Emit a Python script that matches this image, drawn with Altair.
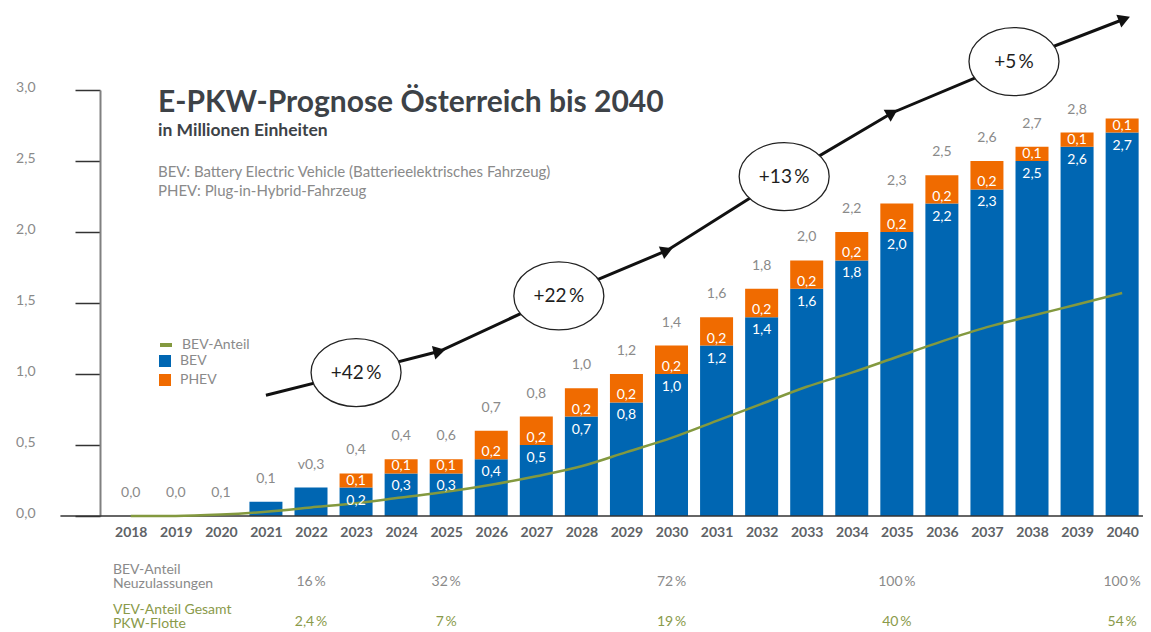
import math
import altair as alt
import pandas as pd

FONT = "Lato"

# ---------------- data ----------------
years = list(range(2018, 2041))
bev = [0, 0, 0, 0.1, 0.2, 0.2, 0.3, 0.3, 0.4, 0.5, 0.7, 0.8, 1.0, 1.2, 1.4, 1.6,
       1.8, 2.0, 2.2, 2.3, 2.5, 2.6, 2.7]
phev = [0, 0, 0, 0, 0, 0.1, 0.1, 0.1, 0.2, 0.2, 0.2, 0.2, 0.2, 0.2, 0.2, 0.2,
        0.2, 0.2, 0.2, 0.2, 0.1, 0.1, 0.1]
total_labels = ["0,0", "0,0", "0,1", "0,1", "v0,3", "0,4", "0,4", "0,6", "0,7", "0,8",
                "1,0", "1,2", "1,4", "1,6", "1,8", "2,0", "2,2", "2,3", "2,5", "2,6",
                "2,7", "2,8", ""]
bev_labels = ["", "", "", "", "", "0,2", "0,3", "0,3", "0,4", "0,5", "0,7", "0,8",
              "1,0", "1,2", "1,4", "1,6", "1,8", "2,0", "2,2", "2,3", "2,5", "2,6", "2,7"]
phev_labels = ["", "", "", "", "", "0,1", "0,1", "0,1", "0,2", "0,2", "0,2", "0,2",
               "0,2", "0,2", "0,2", "0,2", "0,2", "0,2", "0,2", "0,2", "0,1", "0,1", "0,1"]
bev_anteil = [0.0, 0.0, 0.01, 0.03, 0.06, 0.09, 0.13, 0.17, 0.22, 0.28, 0.35, 0.45,
              0.55, 0.67, 0.79, 0.91, 1.01, 1.12, 1.23, 1.33, 1.41, 1.49, 1.57]

# growth arrow path (in chart units: year / Mio.)
arrow_x = [2021.0, 2023.0, 2024.85, 2027.5, 2029.9, 2032.5, 2034.9, 2037.6, 2040.05]
arrow_y = [0.85, 1.01, 1.16, 1.55, 1.87, 2.39, 2.84, 3.20, 3.50]
growth_labels = ["+42\u2009%", "+22\u2009%", "+13\u2009%", "+5\u2009%"]

row_years = [2022, 2025, 2030, 2035, 2040]
neu_values = ["16\u2009%", "32\u2009%", "72\u2009%", "100\u2009%", "100\u2009%"]
flotte_values = ["2,4\u2009%", "7\u2009%", "19\u2009%", "40\u2009%", "54\u2009%"]
row_titles = ["BEV-Anteil\nNeuzulassungen", "VEV-Anteil Gesamt\nPKW-Flotte"]
row_levels = [-0.378, -0.66]
row_value_levels = [-0.465, -0.745]

y_ticks = [0, 0.5, 1.0, 1.5, 2.0, 2.5, 3.0]

title = "E-PKW-Prognose Österreich bis 2040"
subtitle = "in Millionen Einheiten"
note1 = "BEV: Battery Electric Vehicle (Batterieelektrisches Fahrzeug)"
note2 = "PHEV: Plug-in-Hybrid-Fahrzeug"

# ---------------- style ----------------
BLUE = "#0066b2"
ORANGE = "#f06b00"
GREEN = "#83993f"
GRAY = "#8a8a8a"
DARK = "#3d4247"

W, H = 1043, 426
X_DOMAIN = [2017.4286, 2040.352]
Y_DOMAIN = [0, 3.0]
PX_X = W / (X_DOMAIN[1] - X_DOMAIN[0])
PX_Y = H / (Y_DOMAIN[1] - Y_DOMAIN[0])

xs = alt.Scale(domain=X_DOMAIN, nice=False, zero=False)
ys = alt.Scale(domain=Y_DOMAIN, nice=False, zero=False)

X_AXIS = alt.Axis(
    values=years, format="d", title=None, domain=False, ticks=False, grid=False,
    labelFont=FONT, labelFontSize=14, labelFontWeight="bold", labelColor="#5e6266",
    labelPadding=9)
Y_AXIS = alt.Axis(
    values=y_ticks, title=None, grid=False, domainColor="#808080", domainWidth=2,
    tickColor="#333333", tickWidth=1.5, tickSize=25, labelPadding=40,
    labelExpr="replace(format(datum.value, '.1f'), '.', ',')",
    labelFont=FONT, labelFontSize=14, labelColor=GRAY, labelOffset=-3)


def X(field):
    return alt.X(field, scale=xs, axis=X_AXIS, title=None)


def Y(field, **kw):
    return alt.Y(field, scale=ys, axis=Y_AXIS, title=None, **kw)


# ---------------- tables ----------------
n = len(years)
bars_df = pd.DataFrame({
    "year": years * 2,
    "series": ["BEV"] * n + ["PHEV"] * n,
    "value": bev + phev,
    "order": [0] * n + [1] * n,
})
lab_df = pd.DataFrame({
    "year": years,
    "bev": bev,
    "total": [b + p for b, p in zip(bev, phev)],
    "total_label": total_labels,
    "bev_label": bev_labels,
    "phev_label": phev_labels,
})
line_df = pd.DataFrame({"year": years, "share": bev_anteil, "name": ["BEV-Anteil"] * n})
path_df = pd.DataFrame({"x": arrow_x, "y": arrow_y, "i": list(range(len(arrow_x)))})

heads = []
for k in [2, 4, 6, 8]:
    dx = (arrow_x[k] - arrow_x[k - 1]) * PX_X
    dy = -(arrow_y[k] - arrow_y[k - 1]) * PX_Y
    ang = math.degrees(math.atan2(dy, dx)) % 360
    heads.append({"x": arrow_x[k], "y": arrow_y[k], "angle": ang})
heads_df = pd.DataFrame(heads)
ell_df = pd.DataFrame({"x": [arrow_x[k] for k in [1, 3, 5, 7]],
                       "y": [arrow_y[k] for k in [1, 3, 5, 7]],
                       "label": growth_labels})

rows_df = pd.DataFrame({
    "year": row_years * 2,
    "y": [row_value_levels[0]] * 5 + [row_value_levels[1]] * 5,
    "label": neu_values + flotte_values,
    "grp": ["neu"] * 5 + ["flotte"] * 5,
})
row_title_df = pd.DataFrame({"year": [X_DOMAIN[0] + 8 / PX_X] * 2, "y": row_levels,
                             "label": row_titles, "grp": ["neu", "flotte"]})
base_df = pd.DataFrame({"x": [X_DOMAIN[0] - 45 / PX_X], "x2": [X_DOMAIN[0] + 1048 / PX_X], "y": [0]})

# ---------------- layers ----------------
bars = alt.Chart(bars_df).mark_bar(size=33).encode(
    x=X("year:Q"),
    y=Y("value:Q", stack="zero"),
    color=alt.Color("series:N", scale=alt.Scale(domain=["BEV", "PHEV"], range=[BLUE, ORANGE]),
                    legend=alt.Legend(orient="none", legendX=58, legendY=264, title=None,
                                      symbolType="square", symbolSize=144, symbolStrokeWidth=0,
                                      labelFont=FONT, labelFontSize=14, labelColor=GRAY,
                                      labelOffset=8, rowPadding=5, padding=0)),
    order=alt.Order("order:Q"),
)

baseline = alt.Chart(base_df).mark_rule(color="#333333", strokeWidth=1.5).encode(
    x=X("x:Q"), x2="x2:Q", y=Y("y:Q"))

line = alt.Chart(line_df).mark_line(interpolate="monotone", strokeWidth=2.5).encode(
    x=X("year:Q"), y=Y("share:Q"),
    stroke=alt.Stroke("name:N", scale=alt.Scale(domain=["BEV-Anteil"], range=[GREEN]),
                      legend=alt.Legend(orient="none", legendX=58, legendY=247, title=None,
                                        symbolType="stroke", symbolSize=144, symbolStrokeWidth=4,
                                        labelFont=FONT, labelFontSize=14, labelColor=GRAY,
                                        labelOffset=8, padding=0)),
)

tot_text = alt.Chart(lab_df).mark_text(font=FONT, fontSize=14, color=GRAY, dy=-23).encode(
    x=X("year:Q"), y=Y("total:Q"), text="total_label:N")
bev_text = alt.Chart(lab_df).mark_text(font=FONT, fontSize=14, color="white", dy=13).encode(
    x=X("year:Q"), y=Y("bev:Q"), text="bev_label:N")
phev_text = alt.Chart(lab_df).mark_text(font=FONT, fontSize=14, color="white", dy=-7).encode(
    x=X("year:Q"), y=Y("bev:Q"), text="phev_label:N")

path = alt.Chart(path_df).mark_line(color="#111111", strokeWidth=3).encode(
    x=X("x:Q"), y=Y("y:Q"), order="i:Q")
arrowheads = alt.Chart(heads_df).mark_point(
    shape="triangle-right", filled=True, color="#111111", size=190, opacity=1).encode(
    x=X("x:Q"), y=Y("y:Q"), angle=alt.Angle("angle:Q", scale=None))
ELLIPSE = "M-1,0A1,0.756,0,1,1,1,0A1,0.756,0,1,1,-1,0Z"
ellipses = alt.Chart(ell_df).mark_point(
    shape=ELLIPSE, size=8100, filled=True, fill="white", stroke="#222222",
    strokeWidth=1.3, opacity=1).encode(x=X("x:Q"), y=Y("y:Q"))
ell_text = alt.Chart(ell_df).mark_text(font=FONT, fontSize=19, color="#1e1e1e").encode(
    x=X("x:Q"), y=Y("y:Q"), text="label:N")

row_color = alt.Color("grp:N", scale=alt.Scale(domain=["neu", "flotte"], range=[GRAY, "#8a9a4a"]),
                      legend=None)
row_vals = alt.Chart(rows_df).mark_text(font=FONT, fontSize=14).encode(
    x=X("year:Q"), y=Y("y:Q"), text="label:N", color=row_color)
row_titles_l = alt.Chart(row_title_df).mark_text(
    font=FONT, fontSize=14, align="left", lineBreak="\n", lineHeight=14).encode(
    x=X("year:Q"), y=Y("y:Q"), text="label:N", color=row_color)

hdr_df = pd.DataFrame({"t": [0]})
h1 = alt.Chart(hdr_df).mark_text(text=title, font=FONT, fontSize=30, fontWeight="bold",
                                 color=DARK, align="left", baseline="alphabetic").encode(
    x=alt.value(58), y=alt.value(22))
h2 = alt.Chart(hdr_df).mark_text(text=subtitle, font=FONT, fontSize=17.5, fontWeight="bold",
                                 color=DARK, align="left", baseline="alphabetic").encode(
    x=alt.value(58), y=alt.value(46))
h3 = alt.Chart(hdr_df).mark_text(text=note1, font=FONT, fontSize=15, color=GRAY,
                                 align="left", baseline="alphabetic").encode(
    x=alt.value(58), y=alt.value(87))
h4 = alt.Chart(hdr_df).mark_text(text=note2, font=FONT, fontSize=15, color=GRAY,
                                 align="left", baseline="alphabetic").encode(
    x=alt.value(58), y=alt.value(106))

chart = alt.layer(
    bars, baseline, line, tot_text, bev_text, phev_text,
    path, arrowheads, ellipses, ell_text, row_vals, row_titles_l, h1, h2, h3, h4,
).resolve_scale(color="independent").properties(
    width=W, height=H,
    padding={"left": 92, "top": 82, "right": 0, "bottom": 116},
    autosize=alt.AutoSizeParams(type="none"),
).configure_view(stroke=None)

chart.save("out.html", embed_options={"renderer": "svg", "actions": False})
